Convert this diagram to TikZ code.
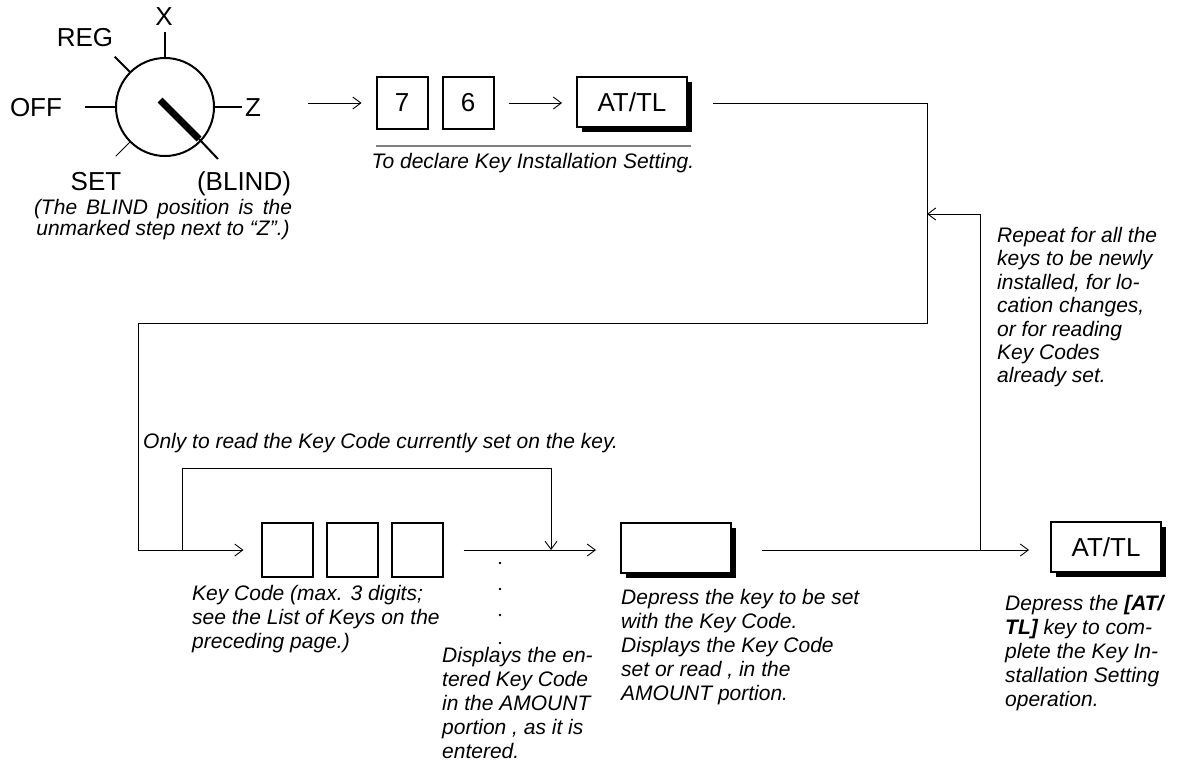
\documentclass[tikz,border=0pt]{standalone}
\usepackage{fontspec}
\setmainfont{Liberation Sans}
\usetikzlibrary{arrows.meta,shadows}

\tikzset{
  keybox/.style={draw, line width=2pt, minimum width=51pt, minimum height=52pt,
    inner sep=0pt, font=\fontsize{26}{30}\selectfont},
  widekey/.style={keybox, fill=white, minimum width=110pt, minimum height=50pt,
    drop shadow={shadow xshift=5pt, shadow yshift=-5pt, fill=black, opacity=1}},
  modetext/.style={inner sep=0pt, font=\fontsize{26}{30}\selectfont},
  note/.style={inner sep=0pt, align=left, font=\fontsize{21}{24}\selectfont\itshape},
  wire/.style={line width=0.9pt},
  flow/.style={wire, -{Straight Barb[length=8pt,width=12pt]}},
}

\begin{document}
\begin{tikzpicture}[x=1pt,y=-1pt]
\useasboundingbox (0,0) rectangle (1185,776);

% Mode switch
\node[circle, draw, line width=2pt, minimum size=98pt, inner sep=0pt] (dial) at (165,107) {};
\draw[line width=2pt] (dial.north) -- ++(0,-25);
\draw[line width=2pt] (dial.135) -- ++(-15,-15);
\draw[line width=2pt] (dial.west) -- ++(-30,0);
\draw[line width=2pt] (dial.east) -- ++(27,0);
\draw[line width=1pt] (dial.225) -- ++(-14,14);
\draw[line width=7pt] (160,100) -- (199,139);
\draw[line width=2pt] (199,139) -- (218,159);

\node[modetext] (xpos) at (164,17) {X};
\node[modetext] (regpos) at (85,38) {REG};
\node[modetext] (offpos) at (36,108) {OFF};
\node[modetext] (zpos) at (253,108) {Z};
\node[modetext, anchor=base] (setpos) at (96,190) {SET};
\node[modetext, anchor=base] (blindpos) at (244,190) {(BLIND)};
\node[note, align=center, anchor=north, font=\fontsize{21}{21}\selectfont\itshape] (blindnote) at (163,199)
  {\makebox[258pt][s]{(The BLIND position is the}\\unmarked step next to “Z”.)};

% Declaring the setting
\node[keybox] (k7) at (402,103) {7};
\node[keybox] (k6) at (468,103) {6};
\node[widekey] (at1) at (632,102) {AT/TL};
\draw[flow, shorten >=14pt] (308,103) -- (k7);
\draw[flow] ([xshift=14pt]k6.east) -- ([xshift=-14pt]k6.east -| at1.west);
\draw[gray, line width=1.2pt] (376,146) -- (691,146);
\node[note] (declnote) at (533,163) {To declare Key Installation Setting.};

% Key code entry
\node[keybox, minimum height=54pt] (c1) at (287,550) {};
\node[keybox, minimum height=54pt] (c2) at (352,550) {};
\node[keybox, minimum height=54pt] (c3) at (417,550) {};
\node[widekey] (amt) at (676,548) {};
\node[widekey] (at2) at (1106,547) {AT/TL};

\draw[flow] ([xshift=25pt]at1.east |- k6.east) -| (927,323) -| (138,550)
  -- ([xshift=-17pt]c1.west);
\draw[flow] (182,550) |- (551,468) -- (551,550);
\draw[flow] ([xshift=20pt]c3.east) -- ([xshift=-24pt]c3.east -| amt.west);
\draw[flow] ([xshift=30pt]amt.east |- c3.east) -- ([xshift=-21pt]c3.east -| at2.west);
\draw[flow] (980,550) -- (980,214) -- (927,214);

\foreach \y in {563,589,615,643}
  \fill (500,\y) circle (1.3pt);

% Notes
\node[note, anchor=west] (readnote) at (143,443) {Only to read the Key Code currently set on the key.};
\node[note, anchor=north west] (codenote) at (192,585)
  {Key Code (max. 3 digits;\\see the List of Keys on the\\preceding page.)};
\node[note, anchor=north west] (shownote) at (442,647)
  {Displays the en-\\tered Key Code\\in the AMOUNT\\portion , as it is\\entered.};
\node[note, anchor=north west] (keynote) at (621,589)
  {Depress the key to be set\\with the Key Code.\\Displays the Key Code\\set or read , in the\\AMOUNT portion.};
\node[note, anchor=north west] (endnote) at (1005,595)
  {Depress the \textbf{[AT/}\\\textbf{TL]} key to com-\\plete the Key In-\\stallation Setting\\operation.};
\node[note, anchor=north west, font=\fontsize{21}{23.4}\selectfont\itshape] (repeatnote) at (997,227)
  {Repeat for all the\\keys to be newly\\installed, for lo-\\cation changes,\\or for reading\\Key Codes\\already set.};

\end{tikzpicture}
\end{document}
